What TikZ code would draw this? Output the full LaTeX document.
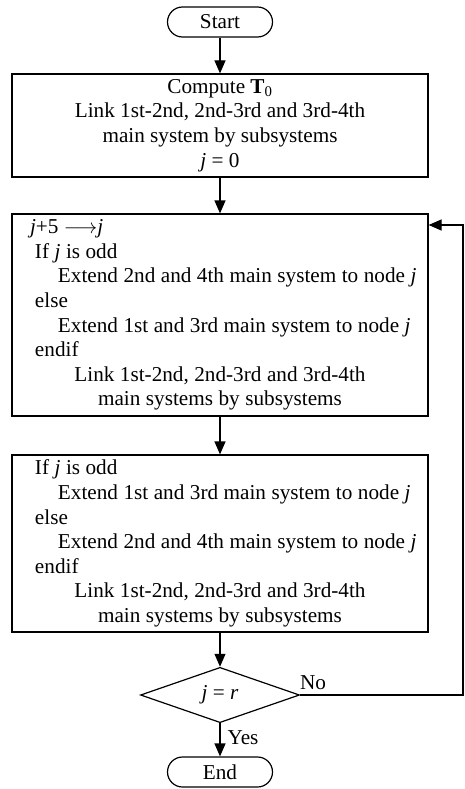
\documentclass[tikz,border=0pt]{standalone}
\usepackage{fontspec}
\setmainfont{Liberation Serif}
\usetikzlibrary{arrows.meta,shapes.geometric}
\newcommand{\algoSpacing}{\spaceskip=5.5pt\relax}

\begin{document}
\begin{tikzpicture}[x=1pt, y=-1pt, line width=1.2pt, >={Triangle[length=13pt, width=11pt]}, textStyle/.style={font=\fontsize{21.2}{24.6}\selectfont}, termStyle/.style={rectangle, draw, textStyle, rounded corners=15pt, minimum width=105pt, minimum height=30pt, inner sep=0pt}, boxStyle/.style={rectangle, draw, textStyle, minimum width=416pt, inner sep=0pt}, algoStyle/.style={boxStyle, execute at begin node=\algoSpacing, text width=416pt, align=left}, checkStyle/.style={diamond, draw, textStyle, minimum width=159pt, minimum height=55pt, inner sep=0pt}]
                    \useasboundingbox (0, 0) rectangle (464, 789);

                    \node[termStyle] (start_0) at (220,  22) {Start};
                    \node[boxStyle, align=center, minimum height=103pt] (step_1) at (220, 125.5) {Compute \textbf{T}\textsubscript{0}\\Link 1st-2nd, 2nd-3rd and 3rd-4th\\main system by subsystems\\\textit{j} = 0};
                    \node[algoStyle, minimum height=202pt] (step_2) at (220, 315) {\hspace*{18pt}\textit{j}+5 $\longrightarrow$\textit{j}\\\hspace*{23pt}If \textit{j} is odd\\\hspace*{46pt}Extend 2nd and 4th main system to node \textit{j}\\\hspace*{23pt}else\\\hspace*{46pt}Extend 1st and 3rd main system to node \textit{j}\\\hspace*{23pt}endif\\\makebox[\hsize]{Link 1st-2nd, 2nd-3rd and 3rd-4th}\\\makebox[\hsize]{main systems by subsystems}};
                    \node[algoStyle, minimum height=177pt] (step_3) at (220, 543.5) {\hspace*{23pt}If \textit{j} is odd\\\hspace*{46pt}Extend 1st and 3rd main system to node \textit{j}\\\hspace*{23pt}else\\\hspace*{46pt}Extend 2nd and 4th main system to node \textit{j}\\\hspace*{23pt}endif\\\makebox[\hsize]{Link 1st-2nd, 2nd-3rd and 3rd-4th}\\\makebox[\hsize]{main systems by subsystems}};
                    \node[checkStyle] (check_0) at (220, 695) {\textit{j} = \textit{r}};
                    \node[termStyle] (end_0) at (220, 772) {End};

                    \node[textStyle] (no_0)  at (313, 683) {No};
                    \node[textStyle] (yes_0) at (243, 738) {Yes};

                    \coordinate (loop_0) at (463, 695);
                    \coordinate (loop_1) at (463, 225);

                    \draw[->] (start_0) -- (step_1);
                    \draw[->] (step_1) -- (step_2);
                    \draw[->] (step_2) -- (step_3);
                    \draw[->] (step_3) -- (check_0);
                    \draw[->] (check_0) -- (end_0);
                    \draw[->] (check_0.east) -- (loop_0) -- (loop_1) -- (loop_1 -| step_2.east);
                \end{tikzpicture}
\end{document}
